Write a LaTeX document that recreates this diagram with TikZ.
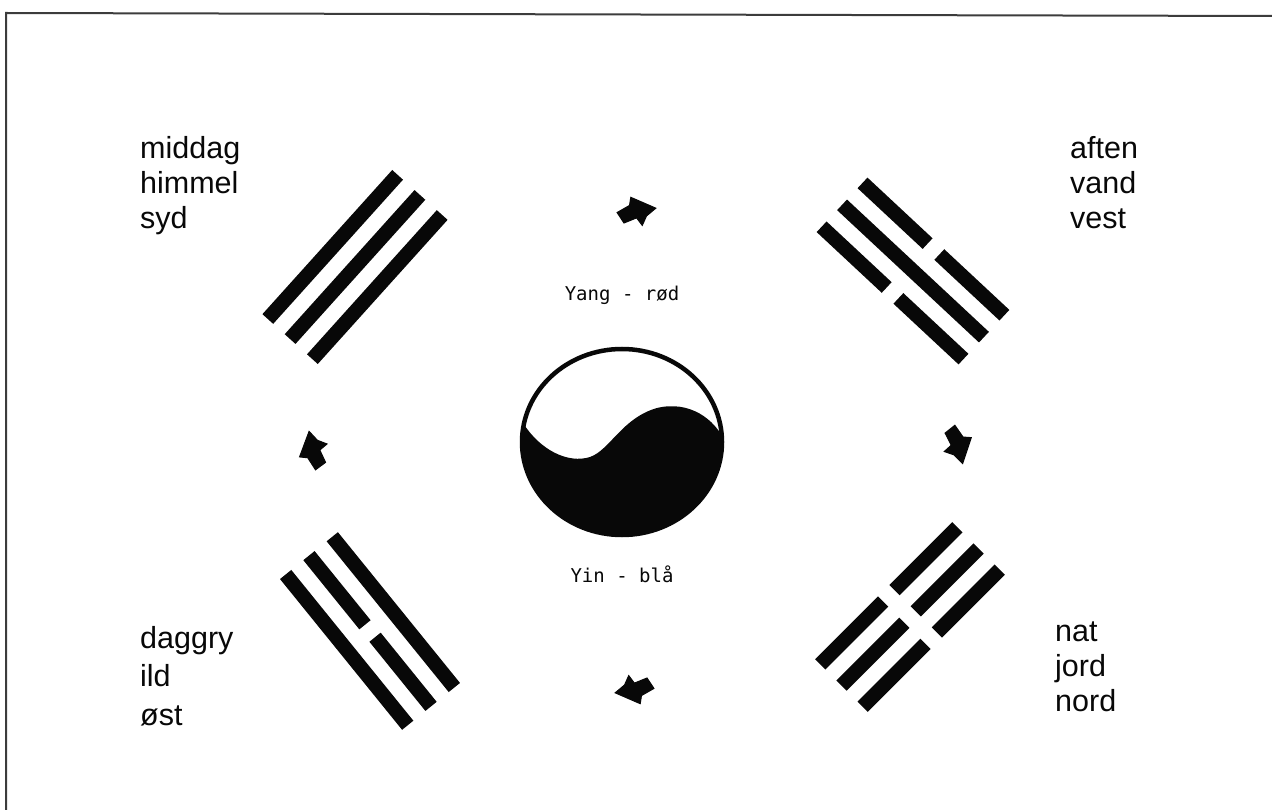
\documentclass[tikz,border=0pt]{standalone}
\usepackage{fontspec}
\setmainfont{Liberation Sans}
\newfontfamily\typefont{DejaVu Sans Mono}
\usepackage{tikz}
\usetikzlibrary{positioning}
\definecolor{ink}{RGB}{8,8,8}
\definecolor{rim}{RGB}{60,60,60}
\tikzset{
  bar/.style={ink,line width=14.5pt},
  pole/.style={font=\fontsize{30.5}{35}\selectfont,align=left,inner sep=0pt,
    text=ink,anchor=north west},
  yy/.style={font=\typefont\fontsize{19}{22}\selectfont,inner sep=0pt,text=ink},
  frame/.style={rim,line width=2pt},
  whole/.pic={\draw[bar] (-97,0) -- (97,0);},
  split/.pic={\draw[bar] (-97,0) -- (-8,0) (8,0) -- (97,0);},
  flow/.pic={\filldraw[ink,line width=1pt]
    (-18,0) -- (-5,-6) -- (-3,-14) -- (21,-1) -- (11,6) -- (6,15)
    -- (1,7) -- (-12,11) -- cycle;},
}

\begin{document}
\begin{tikzpicture}[x=1pt,y=-1pt]
  \useasboundingbox (0,0) rectangle (1272,810);
  \draw[frame] (6,810) -- (6,13) -- (1272,16);

  % trigrams
  \begin{scope}[shift={(355,267)},rotate=48,transform shape]
    \foreach \k in {-30,0,30} \pic at (0,\k) {whole};
  \end{scope}
  \begin{scope}[shift={(913,271)},rotate=-43,transform shape]
    \pic at (0,-30) {split};
    \pic at (0,0) {whole};
    \pic at (0,30) {split};
  \end{scope}
  \begin{scope}[shift={(370,631)},rotate=-51,transform shape]
    \pic at (0,-30) {whole};
    \pic at (0,0) {split};
    \pic at (0,30) {whole};
  \end{scope}
  \begin{scope}[shift={(910,617)},rotate=45,transform shape]
    \foreach \k in {-30,0,30} \pic at (0,\k) {split};
  \end{scope}

  % taegeuk
  \coordinate (core) at (622,442);
  \begin{scope}
    \clip (core) ellipse [x radius=100, y radius=93];
    \fill[ink] (500,423) -- (523,423) .. controls (540,450) and (568,464) .. (590,457)
      .. controls (610,450) and (622,418) .. (657,408)
      .. controls (690,400) and (715,420) .. (724,440)
      -- (740,440) -- (740,560) -- (500,560) -- cycle;
  \end{scope}
  \draw[ink,line width=4.5pt] (core) ellipse [x radius=100, y radius=93];
  \node[yy,above=137pt of core] (yang) {Yang - rød};
  \node[yy,below=124pt of core] (yin) {Yin - blå};

  % turning arrows
  \pic[rotate=5,transform shape] at (635,211) {flow};
  \pic[rotate=-80,transform shape] at (958,443) {flow};
  \pic[rotate=185,transform shape] at (636,690) {flow};
  \pic[rotate=98,transform shape] at (313,452) {flow};

  % labels
  \node[pole] (south) at (140,136) {middag\\himmel\\syd};
  \node[pole] (west) at (1070,136) {aften\\vand\\vest};
  \node[pole,font=\fontsize{30.5}{38.5}\selectfont] (east) at (140,626) {daggry\\ild\\øst};
  \node[pole] (north) at (1055,622) {nat\\jord\\nord};
\end{tikzpicture}
\end{document}
